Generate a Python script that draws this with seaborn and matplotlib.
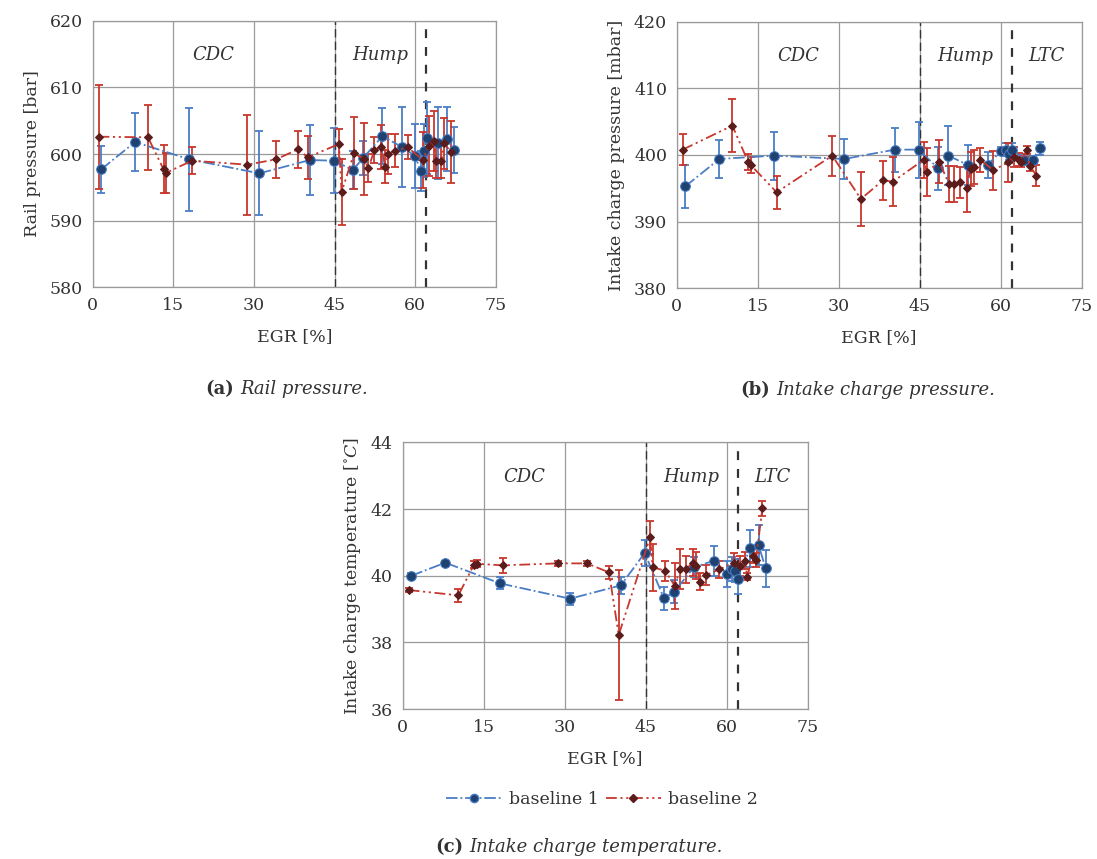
import numpy as np
import matplotlib
matplotlib.use("Agg")
import matplotlib.pyplot as plt
import seaborn as sns
from matplotlib.lines import Line2D

# EGR operating points [%]
egr_b1 = [1.6, 7.9, 18.0, 31.0, 40.4, 44.8, 48.4, 50.3, 53.9, 57.6, 60.0, 61.0, 61.6, 62.1, 64.3, 65.9, 67.2]
egr_b2 = [1.1, 10.3, 13.2, 13.7, 18.5, 28.8, 34.1, 38.2, 40.0, 45.8, 46.3, 48.6, 50.4, 51.3, 52.4, 53.7,
          54.4, 55.0, 56.2, 58.6, 61.4, 62.5, 63.4, 63.8, 64.8, 65.4, 66.6]

# (a) rail pressure [bar]
rail_b1 = [597.7, 601.8, 599.2, 597.1, 599.1, 599.0, 597.6, 599.4, 602.7, 601.0, 599.7, 597.4, 600.5, 602.4, 601.6, 602.3, 600.6]
rail_b1_err = [3.5, 4.3, 7.7, 6.3, 5.2, 4.9, 2.9, 2.5, 4.2, 6.0, 4.8, 3.0, 4.0, 5.4, 5.4, 4.8, 3.4]
rail_b2 = [602.6, 602.5, 597.7, 597.2, 599.0, 598.4, 599.2, 600.7, 599.5, 601.5, 594.3, 600.1, 599.3, 597.9,
           600.6, 601.0, 598.1, 600.0, 600.5, 601.0, 599.1, 601.2, 602.0, 598.9, 598.9, 601.6, 600.3]
rail_b2_err = [7.8, 4.9, 3.6, 3.0, 2.0, 7.5, 2.8, 2.8, 3.2, 2.3, 5.0, 5.4, 5.4, 2.1, 1.9, 3.3, 2.5, 3.0,
               2.5, 1.8, 4.2, 4.5, 4.5, 2.5, 2.5, 3.8, 4.6]

# (b) intake charge pressure [mbar]
pint_b1 = [395.3, 399.4, 399.9, 399.4, 400.8, 400.8, 398.0, 399.9, 398.5, 398.5, 400.6, 400.8, 400.2, 400.8, 399.3, 399.3, 401.0]
pint_b1_err = [3.2, 2.9, 3.6, 3.0, 3.3, 4.2, 3.2, 4.4, 3.0, 2.0, 0.6, 1.0, 1.0, 1.0, 0.8, 0.6, 1.0]
pint_b2 = [400.8, 404.4, 399.0, 398.5, 394.4, 399.9, 393.4, 396.2, 396.0, 399.3, 397.4, 399.0, 395.7, 395.7,
           395.9, 395.0, 397.9, 398.2, 399.3, 397.7, 398.9, 399.7, 399.3, 399.0, 400.8, 398.4, 396.9]
pint_b2_err = [2.3, 4.0, 1.2, 1.2, 2.5, 3.0, 4.1, 2.9, 3.7, 2.7, 3.6, 3.2, 2.7, 2.7, 2.3, 3.5, 2.5, 2.5,
               1.8, 2.9, 2.9, 1.5, 1.0, 0.8, 0.6, 0.8, 1.6]

# (c) intake charge temperature [degC]
tint_b1 = [40.00, 40.39, 39.77, 39.31, 39.71, 40.68, 39.32, 39.52, 40.25, 40.45, 40.05, 40.20, 40.15, 39.90, 40.82, 40.92, 40.22]
tint_b1_err = [0.07, 0.06, 0.18, 0.18, 0.25, 0.40, 0.35, 0.35, 0.30, 0.45, 0.40, 0.35, 0.35, 0.45, 0.55, 0.60, 0.56]
tint_b2 = [39.57, 39.41, 40.33, 40.36, 40.31, 40.37, 40.37, 40.10, 38.22, 41.15, 40.25, 40.15, 39.69, 40.19,
           40.19, 40.39, 40.30, 39.82, 40.02, 40.19, 40.39, 40.30, 40.45, 39.97, 40.59, 40.47, 42.02]
tint_b2_err = [0.05, 0.20, 0.10, 0.10, 0.22, 0.08, 0.08, 0.20, 1.95, 0.50, 0.70, 0.30, 0.70, 0.60, 0.40, 0.40,
               0.40, 0.25, 0.30, 0.25, 0.30, 0.30, 0.25, 0.10, 0.20, 0.20, 0.22]

xticks = [0, 15, 30, 45, 60, 75]

sns.set_style("whitegrid")
plt.rcParams['font.family'] = ['DejaVu Serif']
plt.rcParams['mathtext.fontset'] = 'dejavuserif'

C_B1, M_B1 = "#4a7dc4", "#1f4270"
C_B2, M_B2 = "#c8372d", "#5c1c1c"
TXT = "#333333"

fig = plt.figure(figsize=(10.97, 8.59), dpi=100)
ax_a = fig.add_axes([0.0844, 0.6654, 0.3677, 0.3106])
ax_b = fig.add_axes([0.6169, 0.6643, 0.3692, 0.3106])
ax_c = fig.add_axes([0.3671, 0.1746, 0.3692, 0.3104])


def draw(ax, y1, e1, y2, e2, ylim, yticks, ylabel, ltc):
    ax.errorbar(egr_b1, y1, yerr=e1, fmt='none', ecolor=C_B1, elinewidth=1.3, capsize=3, capthick=1.3, zorder=3)
    ax.errorbar(egr_b2, y2, yerr=e2, fmt='none', ecolor=C_B2, elinewidth=1.3, capsize=3, capthick=1.3, zorder=3)
    sns.lineplot(x=egr_b1, y=y1, ax=ax, color=C_B1, linestyle='-.', linewidth=1.3,
                 marker='o', markersize=7, markerfacecolor=M_B1, markeredgecolor=C_B1, zorder=4)
    sns.lineplot(x=egr_b2, y=y2, ax=ax, color=C_B2, dashes=(6, 2, 1.2, 2, 1.2, 2), linewidth=1.3,
                 marker='D', markersize=4.5, markerfacecolor=M_B2, markeredgecolor=M_B2, zorder=5)
    ax.axvline(45, color="#333333", linestyle=(0, (6, 3)), linewidth=1.0, zorder=2)
    ax.axvline(62, color="#333333", linestyle=(0, (4, 4)), linewidth=1.6, zorder=2)
    ax.set_xlim(0, 75)
    ax.set_ylim(*ylim)
    ax.set_xticks(xticks)
    ax.set_yticks(yticks)
    ax.grid(True, color="#9a9a9a", linewidth=0.9)
    for s in ax.spines.values():
        s.set_color("#9a9a9a")
        s.set_linewidth(0.9)
    ax.tick_params(axis='both', length=0, labelsize=12.5, colors=TXT, pad=7)
    ax.set_xlabel("EGR [%]", fontsize=12.5, color=TXT, labelpad=10)
    ax.set_ylabel(ylabel, fontsize=12.5, color=TXT, labelpad=6)
    ytxt = ylim[1] - 0.128 * (ylim[1] - ylim[0])
    ax.text(22.5, ytxt, "CDC", style='italic', fontsize=13, color=TXT, ha='center', va='center')
    ax.text(53.4, ytxt, "Hump", style='italic', fontsize=13, color=TXT, ha='center', va='center')
    if ltc:
        ax.text(68.4, ytxt, "LTC", style='italic', fontsize=13, color=TXT, ha='center', va='center')


draw(ax_a, rail_b1, rail_b1_err, rail_b2, rail_b2_err, (580, 620), [580, 590, 600, 610, 620],
     "Rail pressure [bar]", False)
draw(ax_b, pint_b1, pint_b1_err, pint_b2, pint_b2_err, (380, 420), [380, 390, 400, 410, 420],
     "Intake charge pressure [mbar]", True)
draw(ax_c, tint_b1, tint_b1_err, tint_b2, tint_b2_err, (36, 44), [36, 38, 40, 42, 44],
     r"Intake charge temperature [$^{\circ}C$]", True)


def caption(xc, y, tag, text):
    fig.text(xc - 0.003, y, tag, fontsize=13, fontweight='bold', color=TXT, ha='right', va='center')
    fig.text(xc + 0.003, y, text, fontsize=13, style='italic', color=TXT, ha='left', va='center')


caption(0.216, 1 - 389 / 859, "(a)", "Rail pressure.")
caption(0.705, 1 - 390 / 859, "(b)", "Intake charge pressure.")
caption(0.425, 1 - 847 / 859, "(c)", "Intake charge temperature.")

handles = [
    Line2D([], [], color=C_B1, linestyle='-.', linewidth=1.3, marker='o', markersize=6,
           markerfacecolor=M_B1, markeredgecolor=C_B1),
    Line2D([], [], color=C_B2, dashes=(6, 2, 1.2, 2, 1.2, 2), linewidth=1.3, marker='D', markersize=4.5,
           markerfacecolor=M_B2, markeredgecolor=M_B2),
]
fig.legend(handles, ["baseline 1", "baseline 2"], loc='center', bbox_to_anchor=(0.549, 1 - 800 / 859),
           ncol=2, frameon=False, fontsize=12.5, handlelength=3.2, columnspacing=0.4, handletextpad=0.4,
           labelcolor=TXT)

fig.savefig("out.png", dpi=100, facecolor='white')
